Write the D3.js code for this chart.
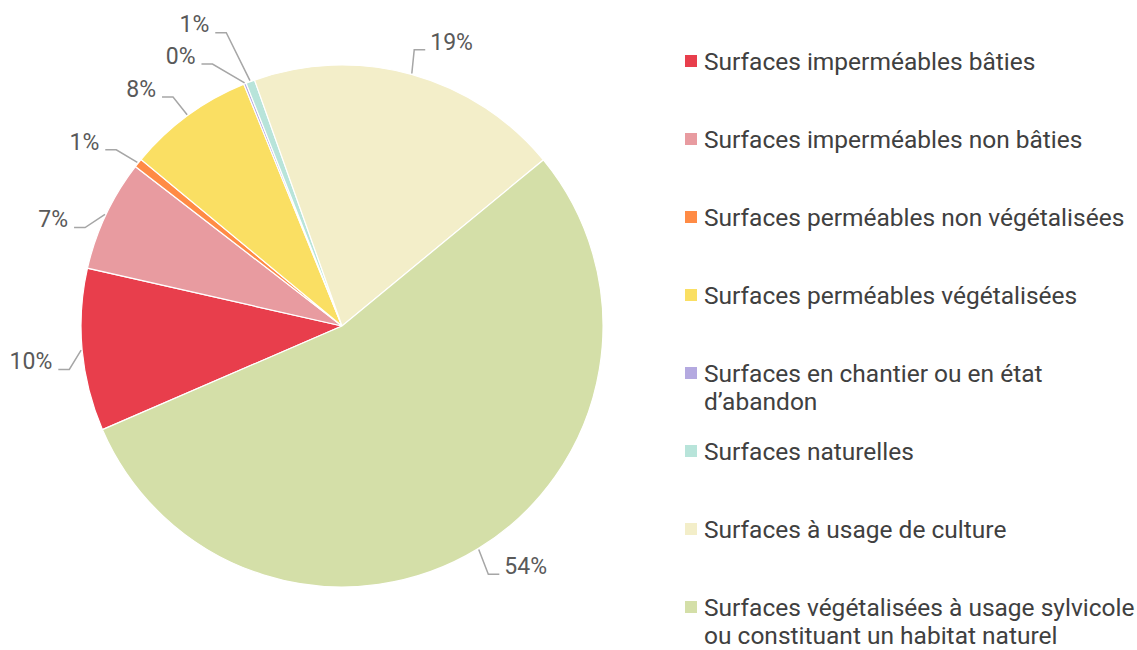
<!DOCTYPE html>
<html>
<head>
<meta charset="utf-8">
<title>Occupation des surfaces</title>
<script src="https://cdnjs.cloudflare.com/ajax/libs/d3/7.8.5/d3.min.js"></script>
<style>
  body { margin: 0; background: #fff; }
  svg { font-family: Roboto, "Noto Sans", sans-serif; }
  .slice { stroke: #fff; stroke-width: 1.2px; }
  .leader { fill: none; stroke: #a6a6a6; stroke-width: 1.5px; }
  .pct { fill: #595959; font-size: 23px; }
  .legend text { fill: #404040; font-size: 24.5px; }
</style>
</head>
<body>
<svg id="chart" width="1137" height="650"></svg>
<script>
// data
var categories = [
  "Surfaces imperméables bâties",
  "Surfaces imperméables non bâties",
  "Surfaces perméables non végétalisées",
  "Surfaces perméables végétalisées",
  "Surfaces en chantier ou en état d’abandon",
  "Surfaces naturelles",
  "Surfaces à usage de culture",
  "Surfaces végétalisées à usage sylvicole ou constituant un habitat naturel"
];
var values = [10.05, 6.9, 0.55, 7.85, 0.15, 0.55, 19.45, 54.45];
var colors = ["#e83e4c", "#e89ba0", "#ff8b45", "#fadf63", "#b4a9e0", "#b8e4da", "#f3eec9", "#d4dfa8"];

// label placement tweaks (best-fit style), degrees / pixels
var labelTurn = [-1.1, -4.9, -3, -4, -9, -5.5, 5.6, -6];
var labelPush = [52, 47, 56, 50, 54, 75, 44, 41];

var svg = d3.select("svg"),
    cx = 342, cy = 326, radius = 261,
    g = svg.append("g").attr("transform", "translate(" + cx + "," + cy + ")");

var start = 246.6 * Math.PI / 180;
var pie = d3.pie().sort(null).value(function(d) { return d; })
    .startAngle(start).endAngle(start + 2 * Math.PI);
var arc = d3.arc().innerRadius(0).outerRadius(radius);
var total = d3.sum(values);
var arcs = pie(values);

g.selectAll(".slice")
  .data(arcs)
  .enter().append("path")
  .attr("class", "slice")
  .attr("d", arc)
  .attr("fill", function(d, i) { return colors[i]; });

function polar(a, r) { return [r * Math.sin(a), -r * Math.cos(a)]; }

var lab = g.selectAll(".lab")
  .data(arcs)
  .enter().append("g")
  .attr("class", "lab");

lab.each(function(d, i) {
  var el = d3.select(this);
  var mid = (d.startAngle + d.endAngle) / 2;
  var p = polar(mid + labelTurn[i] * Math.PI / 180, radius + labelPush[i]);
  var txt = el.append("text")
    .attr("class", "pct")
    .attr("x", p[0]).attr("y", p[1])
    .attr("dy", "0.36em")
    .attr("text-anchor", "middle")
    .text(Math.round(d.value / total * 100) + "%");
  var w = txt.node().getComputedTextLength();
  var rim = polar(mid, radius + 1);
  var yb = p[1] + 8.5, x0, x1;
  if (Math.sin(mid) < 0) { x0 = p[0] + w / 2 + 6; x1 = x0 + 11; }
  else { x0 = p[0] - w / 2 - 5; x1 = x0 - 11; }
  el.insert("path", "text")
    .attr("class", "leader")
    .attr("d", d3.line()([[x0, yb], [x1, yb], rim]));
});

// legend
var legend = svg.append("g").attr("class", "legend")
  .attr("transform", "translate(685,0)");

var item = legend.selectAll(".item")
  .data(categories)
  .enter().append("g")
  .attr("class", "item")
  .attr("transform", function(d, i) { return "translate(0," + (61 + i * 78) + ")"; });

item.append("rect")
  .attr("x", 0).attr("y", -6)
  .attr("width", 12).attr("height", 12)
  .attr("fill", function(d, i) { return colors[i]; });

item.each(function(d) {
  var t = d3.select(this).append("text").attr("x", 19).attr("y", 0);
  var words = d.split(" "), line = [], maxW = 432;
  var ts = t.append("tspan").attr("x", 19).attr("dy", "0.36em");
  words.forEach(function(wd) {
    line.push(wd);
    ts.text(line.join(" "));
    if (ts.node().getComputedTextLength() > maxW && line.length > 1) {
      line.pop();
      ts.text(line.join(" "));
      line = [wd];
      ts = t.append("tspan").attr("x", 19).attr("dy", 28.5).text(wd);
    }
  });
});
</script>
</body>
</html>
